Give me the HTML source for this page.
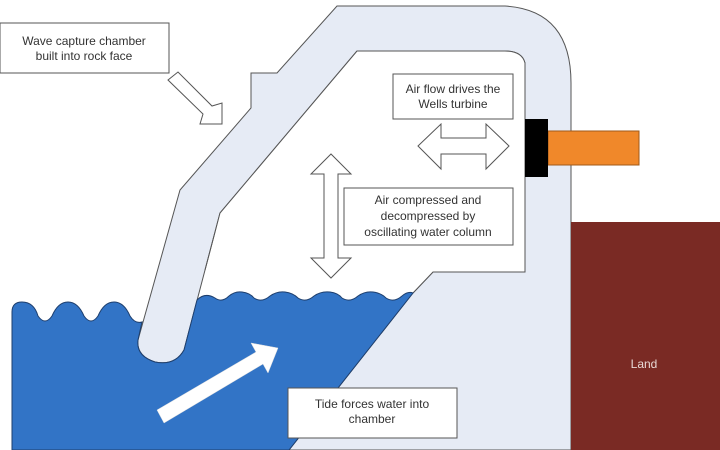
<!DOCTYPE html>
<html><head><style>
html,body{margin:0;padding:0;background:#fff;}
svg{display:block;}
text{font-family:"Liberation Sans",sans-serif;font-size:12px;fill:#333;}
</style></head><body>
<svg width="720" height="450" viewBox="0 0 720 450" xmlns="http://www.w3.org/2000/svg">
<rect width="720" height="450" fill="#fff"/>
<!-- outer shell -->
<path d="M337,6 L505,6 Q571,10 571,83 L571,450 L289,450 L413,293 L433,272 L525,272 L525,63 Q522,51 505,51 L357,51 L220,213 L184,350 Q175,366 155,362 Q136,356 138,340 L180,190 L251,108 L251,73 L277,73 Z" fill="#e6ebf5" stroke="#555" stroke-width="1"/>
<!-- inner chamber white -->
<path d="M357,51 L505,51 Q522,51 525,63 L525,272 L433,272 L413,293 L200,300 L220,213 Z" fill="#fff" stroke="none"/>
<path d="M357,51 L505,51 Q522,51 525,63 L525,272 L433,272 L413,293" fill="none" stroke="#555"/>
<path d="M357,51 L220,213 L205,270" fill="none" stroke="#555"/>
<!-- water -->
<path d="M12,450 L12,312 Q12,302 22,302 Q34,302 38,316 Q45,326 52,316 Q58,302 68,302 Q78,302 84,316 Q91,326 98,316 Q104,302 114,302 Q124,302 130,316 Q135,324 142,322 L138,340 Q136,356 155,362 Q175,366 184,350 L197,300 Q205,292 215,298 Q222,303 229,296 Q235,291 242,292 Q250,293 254,298 Q262,303 270,296 Q277,291 285,292 Q293,293 298,298 Q306,303 314,296 Q321,291 330,292 Q338,293 342,298 Q350,303 358,296 Q365,291 373,292 Q381,293 386,298 Q394,303 402,296 Q408,291 413,293 L289,450 Z" fill="#3274c6" stroke="#1e3f6e" stroke-width="1"/>
<!-- land -->
<rect x="571" y="222" width="149" height="228" fill="#7a2a24"/>
<text x="644" y="368" text-anchor="middle" style="fill:#e8d8d5">Land</text>
<!-- turbine -->
<rect x="548" y="131" width="91" height="34" fill="#f0882a" stroke="#a05a1a"/>
<rect x="525" y="119" width="23" height="58" fill="#000"/>
<!-- boxes -->
<rect x="0" y="23" width="169" height="50" fill="#fff" stroke="#555"/>
<text x="84" y="45" text-anchor="middle">Wave capture chamber</text>
<text x="84" y="60" text-anchor="middle">built into rock face</text>
<rect x="393" y="74" width="120" height="45" fill="#fff" stroke="#555"/>
<text x="453" y="93" text-anchor="middle">Air flow drives the</text>
<text x="453" y="108" text-anchor="middle">Wells turbine</text>
<rect x="344" y="188" width="169" height="57" fill="#fff" stroke="#555"/>
<text x="428" y="204" text-anchor="middle">Air compressed and</text>
<text x="428" y="220" text-anchor="middle">decompressed by</text>
<text x="428" y="236" text-anchor="middle">oscillating water column</text>
<rect x="288" y="388" width="169" height="50" fill="#fff" stroke="#555"/>
<text x="372" y="408" text-anchor="middle">Tide forces water into</text>
<text x="372" y="423" text-anchor="middle">chamber</text>
<!-- wave capture arrow -->
<path d="M168,80 L178,72 L212,106 L222,103 L222,124 L200,124 L203,114 Z" fill="#fff" stroke="#555"/>
<!-- horizontal double arrow -->
<path d="M418,146 L441,124 L441,138 L486,138 L486,124 L509,146 L486,169 L486,154 L441,154 L441,169 Z" fill="#fff" stroke="#555"/>
<!-- vertical double arrow -->
<path d="M331,154 L351,174 L338,174 L338,258 L351,258 L331,278 L311,258 L324,258 L324,174 L311,174 Z" fill="#fff" stroke="#555"/>
<!-- tide arrow -->
<path d="M157,410 L256,352 L251,343 L278,348 L268,373 L263,364 L164,423 Z" fill="#fff" stroke="#ddd" stroke-width="0.5"/>
</svg>
</body></html>
